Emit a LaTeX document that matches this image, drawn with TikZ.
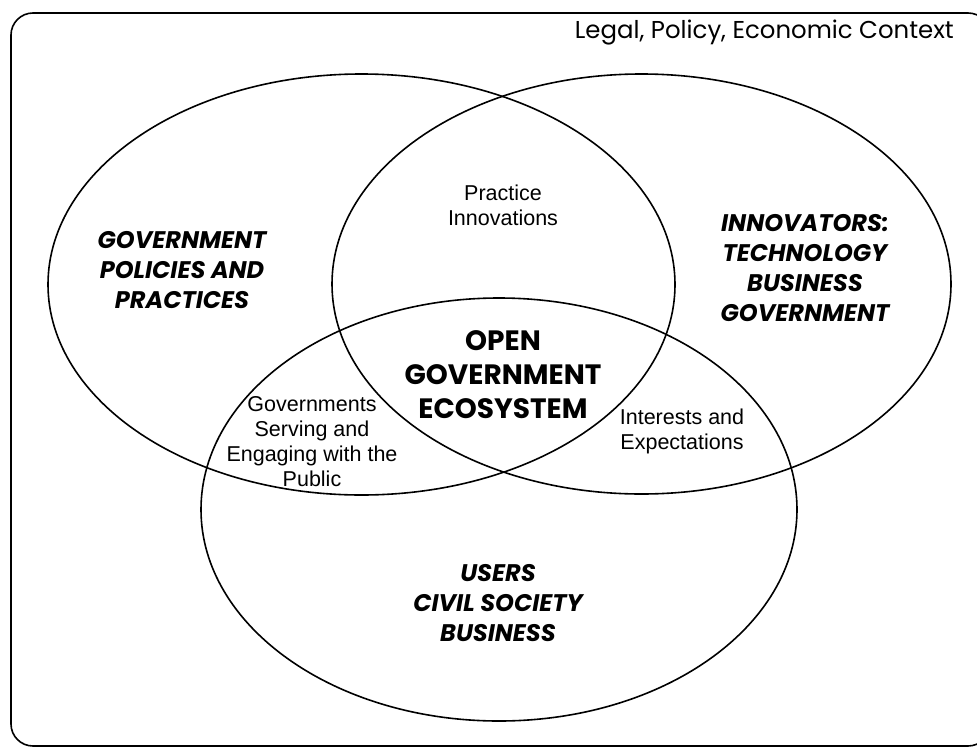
\documentclass[tikz,border=0pt]{standalone}
\usepackage{fontspec}
\setmainfont{Liberation Sans}
\newfontfamily\gothic{Poppins}
\usetikzlibrary{positioning}

\begin{document}
\begin{tikzpicture}[x=1pt, y=-1pt, line width=1.6pt,
    group/.style={align=center, font=\gothic\bfseries\itshape\fontsize{24}{30}\selectfont},
    core/.style={align=center, font=\gothic\bfseries\fontsize{28}{34}\selectfont},
    overlap/.style={align=center, font=\fontsize{21.5}{25}\selectfont}]
    \useasboundingbox (0,0) rectangle (977,747);

    % Context frame
    \draw[rounded corners=22pt] (11,13) rectangle (990,746);
    \node[anchor=base east, font=\gothic\fontsize{24.4}{28}\selectfont] (context) at (958,38) {Legal, Policy, Economic Context};

    % Circles
    \draw (361.5,284.5) ellipse [x radius=313.5pt, y radius=210.5pt];
    \draw (641.5,284) ellipse [x radius=309.5pt, y radius=210pt];
    \draw (499,509.5) ellipse [x radius=298pt, y radius=211.5pt];

    % Groups
    \node[group] (government) at (182,270) {GOVERNMENT\\POLICIES AND\\PRACTICES};
    \node[group] (innovators) at (805,268) {INNOVATORS:\\TECHNOLOGY\\BUSINESS\\GOVERNMENT};
    \node[group] (users) at (498,603) {USERS\\CIVIL SOCIETY\\BUSINESS};

    % Overlaps
    \node[overlap] (practice) at (503,205) {Practice\\Innovations};
    \node[overlap] (serving) at (312,442) {Governments\\Serving and\\Engaging with the\\Public};
    \node[overlap] (interests) at (682,431) {Interests and\\Expectations};
    \node[core] (ecosystem) at (503,375) {OPEN\\GOVERNMENT\\ECOSYSTEM};
\end{tikzpicture}
\end{document}
